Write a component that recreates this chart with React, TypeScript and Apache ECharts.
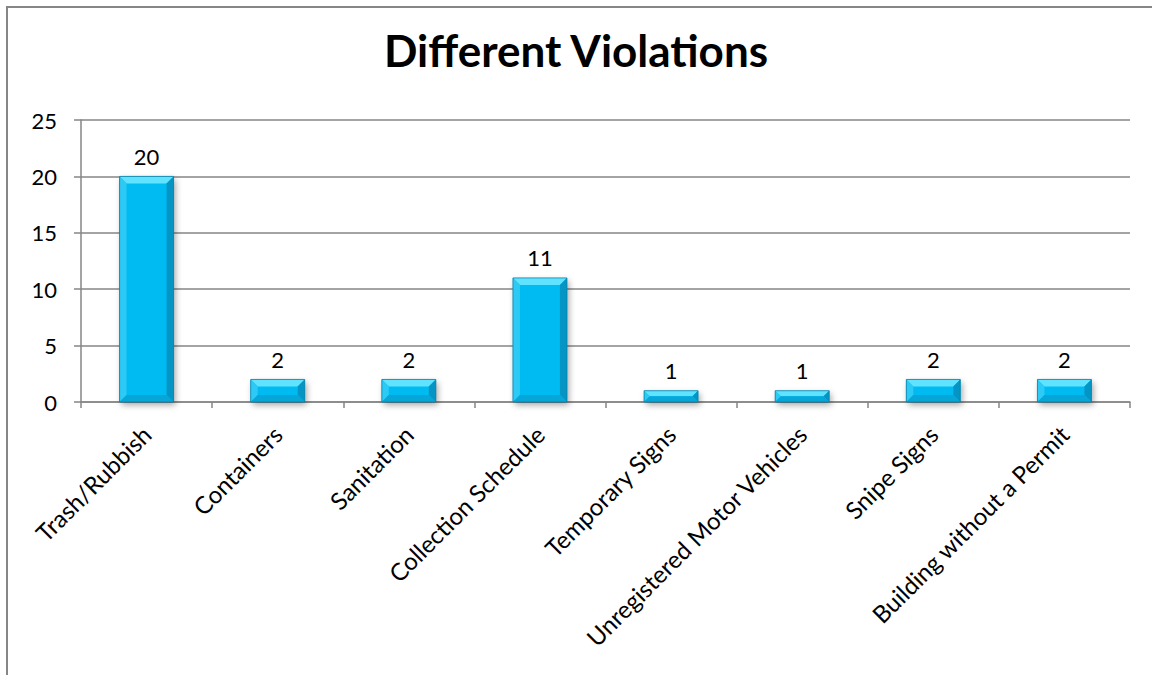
import React, { useEffect, useRef } from "react";
import * as echarts from "echarts";

// Violation counts by type
const categories = [
  "Trash/Rubbish",
  "Containers",
  "Sanitation",
  "Collection Schedule",
  "Temporary Signs",
  "Unregistered Motor Vehicles",
  "Snipe Signs",
  "Building without a Permit",
];
const counts = [20, 2, 2, 11, 1, 1, 2, 2];
const yTicks = { min: 0, max: 25, interval: 5 };

const FONT = "Lato, 'Open Sans', sans-serif";
const BAR_W = 54;
const BEVEL = 7;

export default function App() {
  const ref = useRef<HTMLDivElement>(null);

  useEffect(() => {
    if (!ref.current) return;
    const chart = echarts.init(ref.current, null, { renderer: "svg" });

    // Bevelled face drawn over each bar
    const bevelItem = (params: any, api: any) => {
      const idx = api.value(0);
      const val = api.value(1);
      const top = api.coord([idx, val]);
      const base = api.coord([idx, 0]);
      const cx = top[0];
      const x0 = cx - BAR_W / 2;
      const x1 = cx + BAR_W / 2;
      const y0 = top[1];
      const y1 = base[1];
      const h = y1 - y0;
      const b = Math.min(BEVEL, h / 2, BAR_W / 2);
      return {
        type: "group",
        children: [
          {
            type: "polygon",
            shape: { points: [[x0, y0], [x1, y0], [x1 - b, y0 + b], [x0 + b, y0 + b]] },
            style: { fill: "#5fe3ff" },
          },
          {
            type: "polygon",
            shape: { points: [[x0, y0], [x0 + b, y0 + b], [x0 + b, y1 - b], [x0, y1]] },
            style: { fill: "#2ccaf5" },
          },
          {
            type: "polygon",
            shape: { points: [[x1, y0], [x1, y1], [x1 - b, y1 - b], [x1 - b, y0 + b]] },
            style: { fill: "#0495c4" },
          },
          {
            type: "polygon",
            shape: { points: [[x0, y1], [x0 + b, y1 - b], [x1 - b, y1 - b], [x1, y1]] },
            style: { fill: "#06a6d8" },
          },
          {
            type: "rect",
            shape: { x: x0, y: y0, width: BAR_W, height: h },
            style: { fill: "none", stroke: "#0a7fa6", lineWidth: 0.8 },
          },
        ],
      };
    };

    chart.setOption({
      animation: false,
      backgroundColor: "#ffffff",
      title: {
        text: "Different Violations",
        left: "center",
        top: 23,
        textStyle: { fontFamily: FONT, fontSize: 44, fontWeight: "bold", color: "#000" },
      },
      graphic: [
        {
          type: "rect",
          shape: { x: 7, y: 7, width: 1200, height: 720 },
          style: { fill: "none", stroke: "#868686", lineWidth: 2 },
          silent: true,
        },
      ],
      grid: { left: 81, right: 22, top: 120, bottom: 273, containLabel: false },
      xAxis: {
        type: "category",
        data: categories,
        axisLine: { lineStyle: { color: "#868686", width: 1.5 } },
        axisTick: { show: true, length: 6, lineStyle: { color: "#868686", width: 1.5 } },
        axisLabel: {
          rotate: 45,
          interval: 0,
          margin: 28,
          fontFamily: FONT,
          fontSize: 24,
          color: "#000",
        },
      },
      yAxis: {
        type: "value",
        min: yTicks.min,
        max: yTicks.max,
        interval: yTicks.interval,
        axisLine: { show: true, lineStyle: { color: "#868686", width: 1.5 } },
        axisTick: { show: true, length: 7, lineStyle: { color: "#868686", width: 1.5 } },
        splitLine: { lineStyle: { color: "#868686", width: 1.5 } },
        axisLabel: { margin: 24, fontFamily: FONT, fontSize: 22, color: "#000" },
      },
      series: [
        {
          type: "bar",
          data: counts,
          barWidth: BAR_W,
          itemStyle: {
            color: "#03bbf2",
            shadowColor: "rgba(0,0,0,0.35)",
            shadowBlur: 6,
            shadowOffsetX: 2,
            shadowOffsetY: 3,
          },
          label: {
            show: true,
            position: "top",
            distance: 9,
            fontFamily: FONT,
            fontSize: 22,
            color: "#000",
          },
          z: 2,
        },
        {
          type: "custom",
          data: counts.map((v, i) => [i, v]),
          renderItem: bevelItem,
          silent: true,
          z: 3,
        },
      ],
    });

    return () => chart.dispose();
  }, []);

  return (
    <div
      ref={ref}
      style={{ position: "fixed", left: 0, top: 0, width: 1152, height: 675 }}
    />
  );
}
